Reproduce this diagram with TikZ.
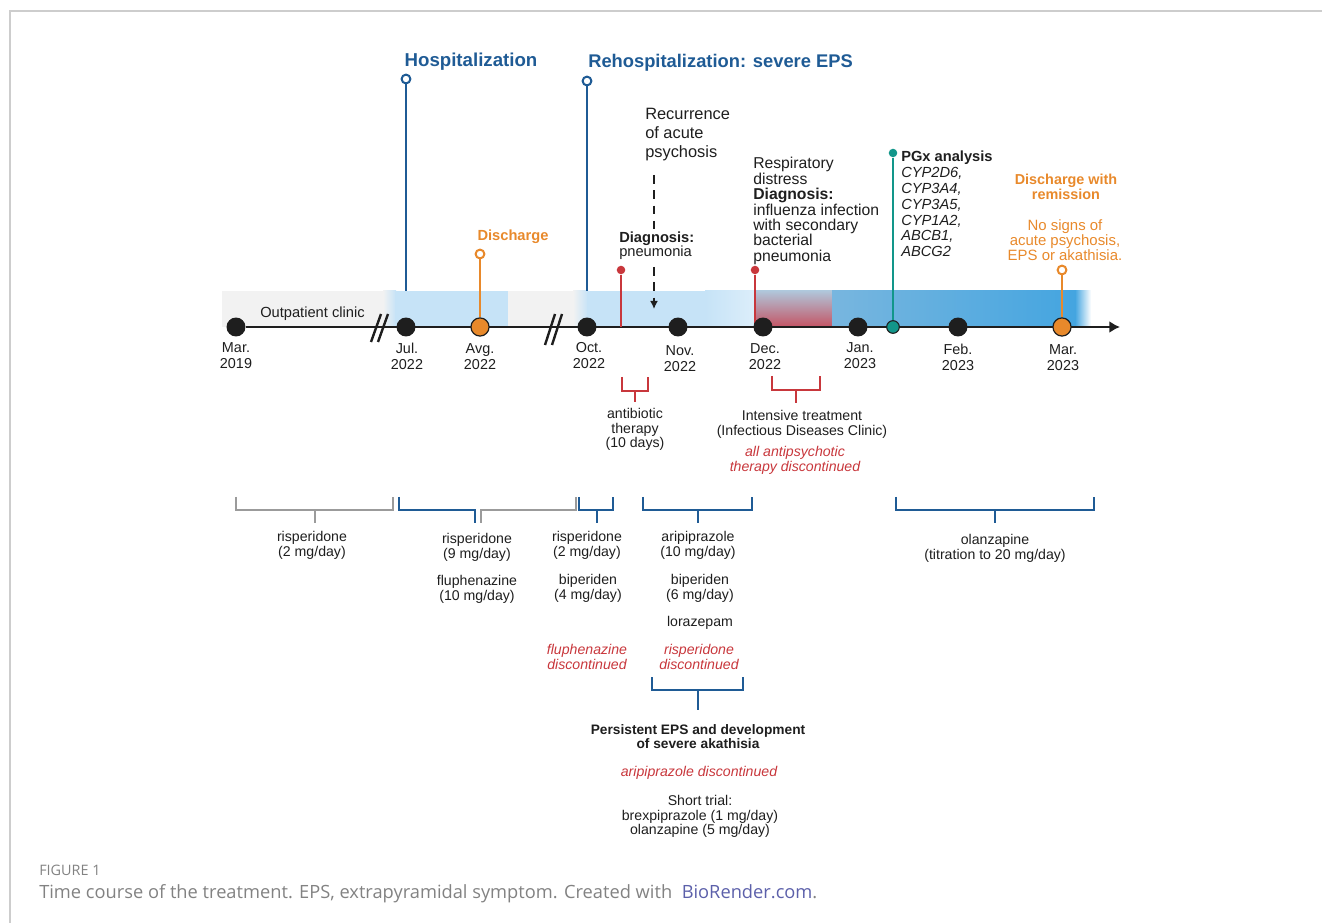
\documentclass[tikz,border=0pt]{standalone}
\usepackage{fontspec}
\setmainfont{Liberation Sans}
\newfontfamily\capfont{Open Sans}
\usetikzlibrary{arrows.meta}
\definecolor{hosp}{RGB}{31,91,149}
\definecolor{orng}{RGB}{232,137,43}
\definecolor{rouge}{RGB}{200,55,60}
\definecolor{pgx}{RGB}{18,150,138}
\definecolor{lblue}{RGB}{198,227,247}
\definecolor{mblue}{RGB}{120,182,223}
\definecolor{dblue}{RGB}{68,165,224}
\definecolor{lgray}{RGB}{242,242,242}
\definecolor{rtop}{RGB}{176,198,218}
\definecolor{rbot}{RGB}{196,84,100}
\definecolor{axe}{RGB}{30,30,30}
\definecolor{brkgray}{RGB}{155,155,155}
\definecolor{capgray}{RGB}{130,130,130}
\definecolor{biorend}{RGB}{92,96,170}
\definecolor{framegray}{RGB}{205,205,205}

\begin{document}
\begin{tikzpicture}[x=0.75pt,y=-0.75pt,
  dot/.style={circle,fill=axe,minimum size=14.2pt,inner sep=0pt},
  odot/.style={circle,fill=orng,draw=axe,line width=0.9pt,minimum size=13.6pt,inner sep=0pt},
  head/.style={circle,fill=white,draw=#1,line width=1.5pt,minimum size=6.6pt,inner sep=0pt},
  pin/.style={circle,fill=#1,minimum size=6.4pt,inner sep=0pt},
  stem/.style={line width=2pt},
  brk/.style={line width=1.5pt},
  month/.style={anchor=north,align=center,inner sep=0pt,text=axe,font=\fontsize{10.8}{12}\selectfont},
  txt/.style={anchor=north,align=center,inner sep=0pt,text=axe,font=\fontsize{10.6}{10.9}\selectfont},
  redtxt/.style={txt,text=rouge,font=\fontsize{10.6}{10.9}\selectfont\itshape}]
\useasboundingbox (0,0) rectangle (1322,923);
\draw [framegray,line width=1.1pt] (1322,11) -- (10,11) -- (10,923);

% band behind the time axis
\fill [lgray] (222,291) rectangle (384,327);
\shade [left color=lgray,right color=lblue] (383,291) rectangle (396,327);
\fill [lblue] (395,291) rectangle (508,327);
\fill [lgray] (508,291) rectangle (574,327);
\shade [left color=lgray,right color=lblue] (573,291) rectangle (588,327);
\fill [lblue] (587,291) rectangle (706,327);
\shade [left color=lblue,right color=lblue!60] (705,291) rectangle (756,327);
\shade [top color=rtop,bottom color=rbot] (755,291) rectangle (833,327);
\shade [left color=mblue,right color=dblue] (832,291) rectangle (1076,327);
\shade [left color=dblue,right color=white] (1075,291) rectangle (1091,327);

\node [anchor=base west,inner sep=0pt,text=axe,font=\fontsize{11}{12}\selectfont] (outpat) at (260,318) {Outpatient clinic};

% time axis
\node [dot] (m19) at (236,327) {};
\coordinate (axend) at (1120,327);
\draw [axe,line width=2pt,-{Latex[length=8pt,width=9pt]}] (m19) -- (axend);
\draw [axe,line width=1.8pt] (371,342) -- (381,314) (378,342) -- (388,314);
\draw [axe,line width=1.8pt] (545,345) -- (555,314) (552,345) -- (562,314);

% events above the axis
\node [head=hosp] (hhosp) at (406,79) {};
\coordinate (bhosp) at (406,291);
\draw [hosp,stem] (hhosp) -- (bhosp);
\node [head=hosp] (hrehosp) at (587,81) {};
\coordinate (brehosp) at (587,291);
\draw [hosp,stem] (hrehosp) -- (brehosp);

\node [pin=rouge] (hpneu) at (621,270) {};
\coordinate (bpneu) at (621,327);
\draw [rouge,stem] (hpneu) -- (bpneu);
\node [pin=rouge] (hresp) at (755,270) {};
\coordinate (bresp) at (755,327);
\draw [rouge,stem] (hresp) -- (bresp);

\node [dot] (jul) at (406,327) {};
\node [odot] (avg) at (480,327) {};
\node [dot] (oct) at (587,327) {};
\node [dot] (nov) at (678,327) {};
\node [dot] (dec) at (763,327) {};
\node [dot] (jan) at (858,327) {};
\node [circle,fill=pgx,draw=axe,line width=0.8pt,minimum size=9.5pt,inner sep=0pt] (pgxdot) at (893,327) {};
\node [dot] (feb) at (958,327) {};
\node [odot] (mar) at (1062,327) {};

\node [head=orng] (hdisch) at (480,254) {};
\draw [orng,stem] (hdisch) -- (avg);
\node [pin=pgx] (hpgx) at (893,153) {};
\draw [pgx,stem] (hpgx) -- (pgxdot);
\node [head=orng] (hremis) at (1062,270) {};
\draw [orng,stem] (hremis) -- (mar);

\node [month] (lm19) at (236,342) {Mar.\\2019};
\node [month] (ljul) at (407,343) {Jul.\\2022};
\node [month] (lavg) at (480,343) {Avg.\\2022};
\node [month] (loct) at (589,342) {Oct.\\2022};
\node [month] (lnov) at (680,345) {Nov.\\2022};
\node [month] (ldec) at (765,343) {Dec.\\2022};
\node [month] (ljan) at (860,342) {Jan.\\2023};
\node [month] (lfeb) at (958,344) {Feb.\\2023};
\node [month] (lmar) at (1063,344) {Mar.\\2023};

\node [anchor=base,inner sep=0pt,text=hosp,font=\fontsize{14}{16}\selectfont\bfseries] (thosp) at (471,67) {Hospitalization};
\node [anchor=base west,inner sep=0pt,text=hosp,font=\fontsize{13.75}{16}\selectfont\bfseries] (trehosp) at (588,68) {Rehospitalization: severe EPS};
\node [anchor=base,inner sep=0pt,text=orng,font=\fontsize{11}{12}\selectfont\bfseries] (tdisch) at (513,241) {Discharge};

\node [anchor=north west,align=left,inner sep=0pt,text=axe,font=\fontsize{12.3}{14.3}\selectfont] (recur) at (645,108) {Recurrence\\of acute\\psychosis};
\coordinate (rtop) at (654,175);
\coordinate (rend) at (654,309);
\draw [axe,line width=1.5pt,dash pattern=on 6.5pt off 5pt,-{Latex[length=6pt,width=6pt]}] (rtop) -- (rend);
\node [anchor=north west,align=left,inner xsep=0pt,inner ysep=2pt,fill=white,text=axe,font=\fontsize{11}{10.6}\selectfont] (pneu) at (619,229) {\textbf{Diagnosis:}\\pneumonia};

\node [anchor=north west,align=left,inner sep=0pt,text=axe,font=\fontsize{11.8}{11.6}\selectfont] (resp) at (753,157) {Respiratory\\distress\\\textbf{Diagnosis:}\\influenza infection\\with secondary\\bacterial\\pneumonia};

\node [anchor=north west,align=left,inner sep=0pt,text=axe,font=\fontsize{11}{11.85}\selectfont] (pgxtxt) at (901,151) {\textbf{PGx analysis}\\\textit{CYP2D6,}\\\textit{CYP3A4,}\\\textit{CYP3A5,}\\\textit{CYP1A2,}\\\textit{ABCB1,}\\\textit{ABCG2}};

\node [anchor=north,align=center,inner sep=0pt,text=orng,font=\fontsize{10.8}{11.25}\selectfont\bfseries] (tremis) at (1066,174) {Discharge with\\remission};
\node [anchor=north,align=center,inner sep=0pt,text=orng,font=\fontsize{11.2}{11.25}\selectfont] (nosign) at (1065,219) {No signs of\\acute psychosis,\\EPS or akathisia.};

% treatment below the axis
\draw [rouge,brk] (622,377) -- (622,391) -- (648,391) -- (648,377) (635,391) -- (635,402);
\node [txt] (abx) at (635,408) {antibiotic\\therapy\\(10 days)};
\draw [rouge,brk] (772,376) -- (772,390) -- (820,390) -- (820,376) (796,390) -- (796,403);
\node [txt] (icu) at (802,410) {Intensive treatment\\(Infectious Diseases Clinic)};
\node [redtxt] (allstop) at (795,446) {all antipsychotic\\therapy discontinued};

\draw [brkgray,brk] (236,497) -- (236,510) -- (393,510) -- (393,497) (315,510) -- (315,523);
\node [txt] (ris2a) at (312,531) {risperidone\\(2 mg/day)};

\draw [hosp,brk] (399,497) -- (399,510) -- (475,510) -- (475,523);
\draw [brkgray,brk] (481,523) -- (481,510) -- (576,510) -- (576,497);
\node [txt] (ris9) at (477,533) {risperidone\\(9 mg/day)};
\node [txt] (flu10) at (477,575) {fluphenazine\\(10 mg/day)};

\draw [hosp,brk] (579,497) -- (579,510) -- (613,510) -- (613,497) (597,510) -- (597,523);
\node [txt] (ris2b) at (587,531) {risperidone\\(2 mg/day)};
\node [txt] (bip4) at (588,574) {biperiden\\(4 mg/day)};
\node [redtxt] (flustop) at (587,644) {fluphenazine\\discontinued};

\draw [hosp,brk] (643,497) -- (643,510) -- (752,510) -- (752,497) (698,510) -- (698,523);
\node [txt] (ari) at (698,531) {aripiprazole\\(10 mg/day)};
\node [txt] (bip6) at (700,574) {biperiden\\(6 mg/day)};
\node [txt] (lora) at (700,616) {lorazepam};
\node [redtxt] (risstop) at (699,644) {risperidone\\discontinued};

\draw [hosp,brk] (652,677) -- (652,690) -- (743,690) -- (743,677) (698,690) -- (698,710);
\node [txt,font=\fontsize{10.3}{10.9}\selectfont\bfseries] (akat) at (698,724) {Persistent EPS and development\\of severe akathisia};
\node [redtxt] (aristop) at (699,766) {aripiprazole discontinued};
\node [txt] (trial) at (700,795) {Short trial:\\brexpiprazole (1 mg/day)\\olanzapine (5 mg/day)};

\draw [hosp,brk] (896,497) -- (896,510) -- (1094,510) -- (1094,497) (995,510) -- (995,523);
\node [txt] (olz) at (995,534) {olanzapine\\(titration to 20 mg/day)};

% caption
\node [anchor=base west,inner sep=0pt,text=capgray,font=\capfont\fontsize{10.8}{12}\selectfont] (fig) at (39,875) {FIGURE 1};
\node [anchor=base west,inner sep=0pt,text=capgray,font=\capfont\fontsize{13.7}{15}\selectfont] (capt) at (39,898) {Time course of the treatment. EPS, extrapyramidal symptom. Created with\ \ \textcolor{biorend}{BioRender.com}.};
\end{tikzpicture}
\end{document}
